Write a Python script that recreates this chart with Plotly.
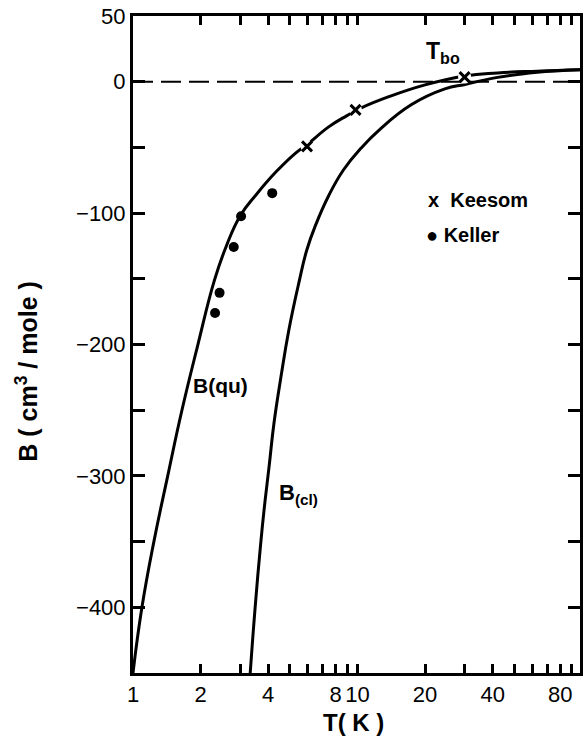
import plotly.graph_objects as go
import math

# ---------------- data ----------------
# quantum second virial coefficient curve B(qu)
T_qu = [1.0, 1.096, 1.239, 1.428, 1.647, 1.94, 2.306, 2.606, 3.005, 3.537, 4.337, 5.317,
        5.95, 7.44, 8.94, 10.41, 13.7, 20.0, 30.1, 42.1, 63.2, 98.0]
B_qu = [-450, -400, -350, -300, -251, -201, -151, -125, -102, -86, -68.6, -54.1,
        -48, -34.4, -26, -19.9, -11.6, -2.4, 4.4, 6.7, 8.0, 9.0]

# classical curve B(cl)
T_cl = [3.328, 3.50, 3.685, 3.838, 4.039, 4.25, 4.564, 4.951, 5.483, 5.95, 6.52,
        7.44, 8.67, 10.41, 12.38, 17.34, 24.5, 30.1, 36.1, 42.1, 51.6, 63.2, 98.0]
B_cl = [-450, -400, -356, -325.5, -292.8, -259.4, -224.4, -188.6, -152.9, -127.9, -108.8,
        -86.8, -67.0, -50.3, -37.4, -17.6, -5.5, -2.1, 1.0, 3.3, 5.5, 7.2, 9.0]

# measured points
T_keesom = [5.96, 9.8, 30.0]
B_keesom = [-49.2, -21.4, 3.5]
T_keller = [2.32, 2.43, 2.81, 3.03, 4.17]
B_keller = [-176, -160.7, -125.8, -102.4, -84.8]

# axis ticks
x_tickvals = [1, 2, 4, 8, 10, 20, 40, 80]
x_ticktext = ["1", "2", "4", "8", "10", "20", "40", "80"]
x_minorvals = [3, 5, 6, 7, 9, 30, 50, 60, 70, 90]
y_tickvals = [-400, -300, -200, -100, 0, 50]
y_ticktext = ["\u2212400", "\u2212300", "\u2212200", "\u2212100", "0", "50"]
y_minorvals = [-350, -250, -150, -50]

# ---------------- layout geometry ----------------
W, H = 585, 742
ML, MR, MT, MB = 133, 2, 16, 69
PW, PH = W - ML - MR, H - MT - MB


def px(xp):
    return (xp - ML) / PW


def py(yp):
    return (H - MB - yp) / PH


FONT = "Liberation Sans, Arial, sans-serif"
BLACK = "black"

fig = go.Figure()

curve_line = dict(color=BLACK, width=3, shape="spline", smoothing=1.3)
fig.add_trace(go.Scatter(x=T_cl, y=B_cl, mode="lines", line=curve_line,
                         showlegend=False, hoverinfo="skip"))
fig.add_trace(go.Scatter(x=T_qu, y=B_qu, mode="lines", line=curve_line,
                         showlegend=False, hoverinfo="skip"))
# white halo to break the curve around the Keesom crosses
fig.add_trace(go.Scatter(x=T_keesom, y=B_keesom, mode="markers",
                         marker=dict(symbol="circle", size=13, color="white", line=dict(width=0)),
                         showlegend=False, hoverinfo="skip"))
fig.add_trace(go.Scatter(x=T_keesom, y=B_keesom, mode="markers", name="Keesom",
                         marker=dict(symbol="x-thin", size=10, line=dict(width=3, color=BLACK), color=BLACK),
                         showlegend=False))
fig.add_trace(go.Scatter(x=T_keller, y=B_keller, mode="markers", name="Keller",
                         marker=dict(symbol="circle", size=10, color=BLACK),
                         showlegend=False))

fig.add_hline(y=0, line=dict(color=BLACK, width=2, dash="20px,8px"), layer="below")

axis_common = dict(showline=True, linewidth=3, linecolor=BLACK, mirror="ticks", ticks="inside",
                   tickcolor=BLACK, tickwidth=2.5, showgrid=False, zeroline=False,
                   tickfont=dict(family=FONT, size=22, color=BLACK))

fig.update_xaxes(type="log", range=[0, math.log10(98)], tickmode="array",
                 tickvals=x_tickvals, ticktext=x_ticktext, ticklen=9,
                 minor=dict(tickmode="array", tickvals=x_minorvals, ticks="inside", ticklen=9,
                            tickwidth=2.5, tickcolor=BLACK, showgrid=False),
                 **axis_common)
fig.update_yaxes(range=[-450, 50], tickmode="array", tickvals=y_tickvals, ticktext=y_ticktext, ticklen=12,
                 minor=dict(tickmode="array", tickvals=y_minorvals, ticks="inside", ticklen=12,
                            tickwidth=2.5, tickcolor=BLACK, showgrid=False),
                 **axis_common)

ann_font = dict(family=FONT, size=20, color=BLACK, weight="bold")
annotations = [
    dict(text="T<sub>bo</sub>", x=px(426), y=py(52), xanchor="left", yanchor="middle",
         font=dict(family=FONT, size=23, color=BLACK, weight="bold")),
    dict(text="x\u00a0\u00a0Keesom", x=px(428), y=py(200), xanchor="left", yanchor="middle", font=ann_font),
    dict(text="<span style='font-size:20px'>\u25CF</span>\u00a0Keller", x=px(426), y=py(235),
         xanchor="left", yanchor="middle", font=ann_font),
    dict(text="B(qu)", x=px(191), y=py(385), xanchor="left", yanchor="middle",
         font=dict(family=FONT, size=21, color=BLACK, weight="bold")),
    dict(text="B<sub>(cl)</sub>", x=px(278), y=py(494), xanchor="left", yanchor="middle",
         font=dict(family=FONT, size=22, color=BLACK, weight="bold")),
]
for a in annotations:
    fig.add_annotation(xref="paper", yref="paper", showarrow=False, **a)

fig.add_annotation(xref="paper", yref="paper", showarrow=False, text="B ( cm<sup>3</sup> / mole )",
                   x=px(26), y=py(371), xanchor="center", yanchor="middle", textangle=-90,
                   font=dict(family=FONT, size=25, color=BLACK, weight="bold"))
fig.add_annotation(xref="paper", yref="paper", showarrow=False, text="T( K )",
                   x=px(355), y=py(722), xanchor="center", yanchor="middle",
                   font=dict(family=FONT, size=24, color=BLACK, weight="bold"))

fig.update_layout(width=W, height=H, autosize=False,
                  margin=dict(l=ML, r=MR, t=MT, b=MB, pad=0),
                  paper_bgcolor="white", plot_bgcolor="white",
                  font=dict(family=FONT, color=BLACK))

fig.write_html("out.html")
